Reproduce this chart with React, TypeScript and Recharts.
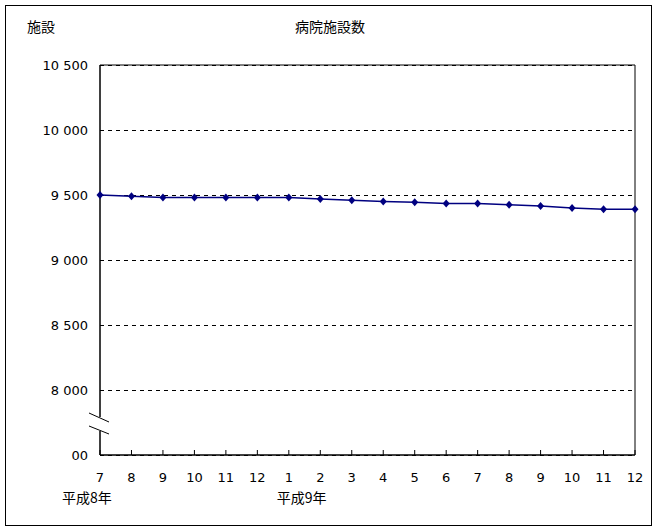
import React from "react";
import {
  LineChart, Line, XAxis, YAxis, CartesianGrid, ReferenceArea,
} from "recharts";

const MONTHS = ["7","8","9","10","11","12","1","2","3","4","5","6","7","8","9","10","11","12"];
const HOSPITALS = [9500, 9490, 9480, 9480, 9480, 9480, 9480, 9470, 9460, 9450, 9445, 9435, 9435, 9425, 9415, 9400, 9390, 9390];
const Y_TICKS = [7500, 8000, 8500, 9000, 9500, 10000, 10500];
const YEAR_LABELS: Record<number, string> = { 0: "平成8年", 6: "平成9年" };

const TITLE = "病院施設数";
const UNIT = "施設";

const W = 658;
const H = 532;
const FONT = "'DejaVu Sans', 'Noto Sans CJK JP', sans-serif";
const JP_FONT = "'Noto Sans CJK JP', sans-serif";

const rows = MONTHS.map((m, i) => ({ month: m, value: HOSPITALS[i] }));

// "10 500" style, bottom tick is clipped to "00" in the original
const fmtY = (v: number) => {
  if (v === Y_TICKS[0]) return "00";
  const s = String(v);
  return s.slice(0, s.length - 3) + " " + s.slice(-3);
};

const Diamond = (p: any) => {
  const { cx, cy } = p;
  if (cx == null || cy == null) return null;
  return (
    <path
      d={`M${cx},${cy - 4} L${cx + 3.5},${cy} L${cx},${cy + 4} L${cx - 3.5},${cy} Z`}
      fill="#000080"
    />
  );
};

const MonthTick = (p: any) => {
  const { x, y, payload, index } = p;
  const year = YEAR_LABELS[index];
  const yearDx = index === 0 ? -38 : -12;
  return (
    <g>
      <line x1={x} x2={x} y1={y} y2={y - 5} stroke="#000" />
      <text x={x} y={y + 27} textAnchor="middle" fontSize={13} fontFamily={FONT} fill="#000">
        {payload.value}
      </text>
      {year && (
        <text x={x + yearDx} y={y + 48} fontSize={14} fontFamily={JP_FONT} fill="#000">
          {year}
        </text>
      )}
    </g>
  );
};

export default function App() {
  return (
    <div style={{ position: "absolute", left: 0, top: 0, width: W, height: H, background: "#fff" }}>
      <LineChart
        width={W}
        height={H}
        data={rows}
        margin={{ top: 65, right: 23, bottom: 47, left: 0 }}
      >
        <CartesianGrid
          vertical={false}
          stroke="#000"
          strokeDasharray="4 4"
          shapeRendering="crispEdges"
        />
        <XAxis
          dataKey="month"
          height={30}
          interval={0}
          axisLine={{ stroke: "#000" }}
          tickLine={false}
          tickSize={0}
          tickMargin={0}
          tick={<MonthTick />}
        />
        <YAxis
          width={100}
          domain={[7500, 10500]}
          ticks={Y_TICKS}
          interval={0}
          axisLine={{ stroke: "#000" }}
          tickLine={false}
          tickMargin={6}
          tickFormatter={fmtY}
          tick={{ fill: "#000", fontSize: 13, fontFamily: FONT }}
        />
        <ReferenceArea y1={7500} y2={10500} fill="none" stroke="#000" ifOverflow="visible" />
        <Line
          type="linear"
          dataKey="value"
          stroke="#000080"
          strokeWidth={1.5}
          dot={<Diamond />}
          activeDot={false}
          isAnimationActive={false}
        />
      </LineChart>
      <svg
        width={W}
        height={H}
        style={{ position: "absolute", left: 0, top: 0, pointerEvents: "none" }}
      >
        <rect x={5.5} y={5.5} width={646} height={520} fill="none" stroke="#000" />
        <text x={27} y={32} fontSize={14} fontFamily={JP_FONT} fill="#000">{UNIT}</text>
        <text x={330} y={32} textAnchor="middle" fontSize={14} fontFamily={JP_FONT} fill="#000">
          {TITLE}
        </text>
        {/* axis break */}
        <rect x={96} y={417} width={8} height={14} fill="#fff" />
        <line x1={89} y1={413} x2={109} y2={422} stroke="#000" />
        <line x1={89} y1={426} x2={109} y2={434} stroke="#000" />
      </svg>
    </div>
  );
}
